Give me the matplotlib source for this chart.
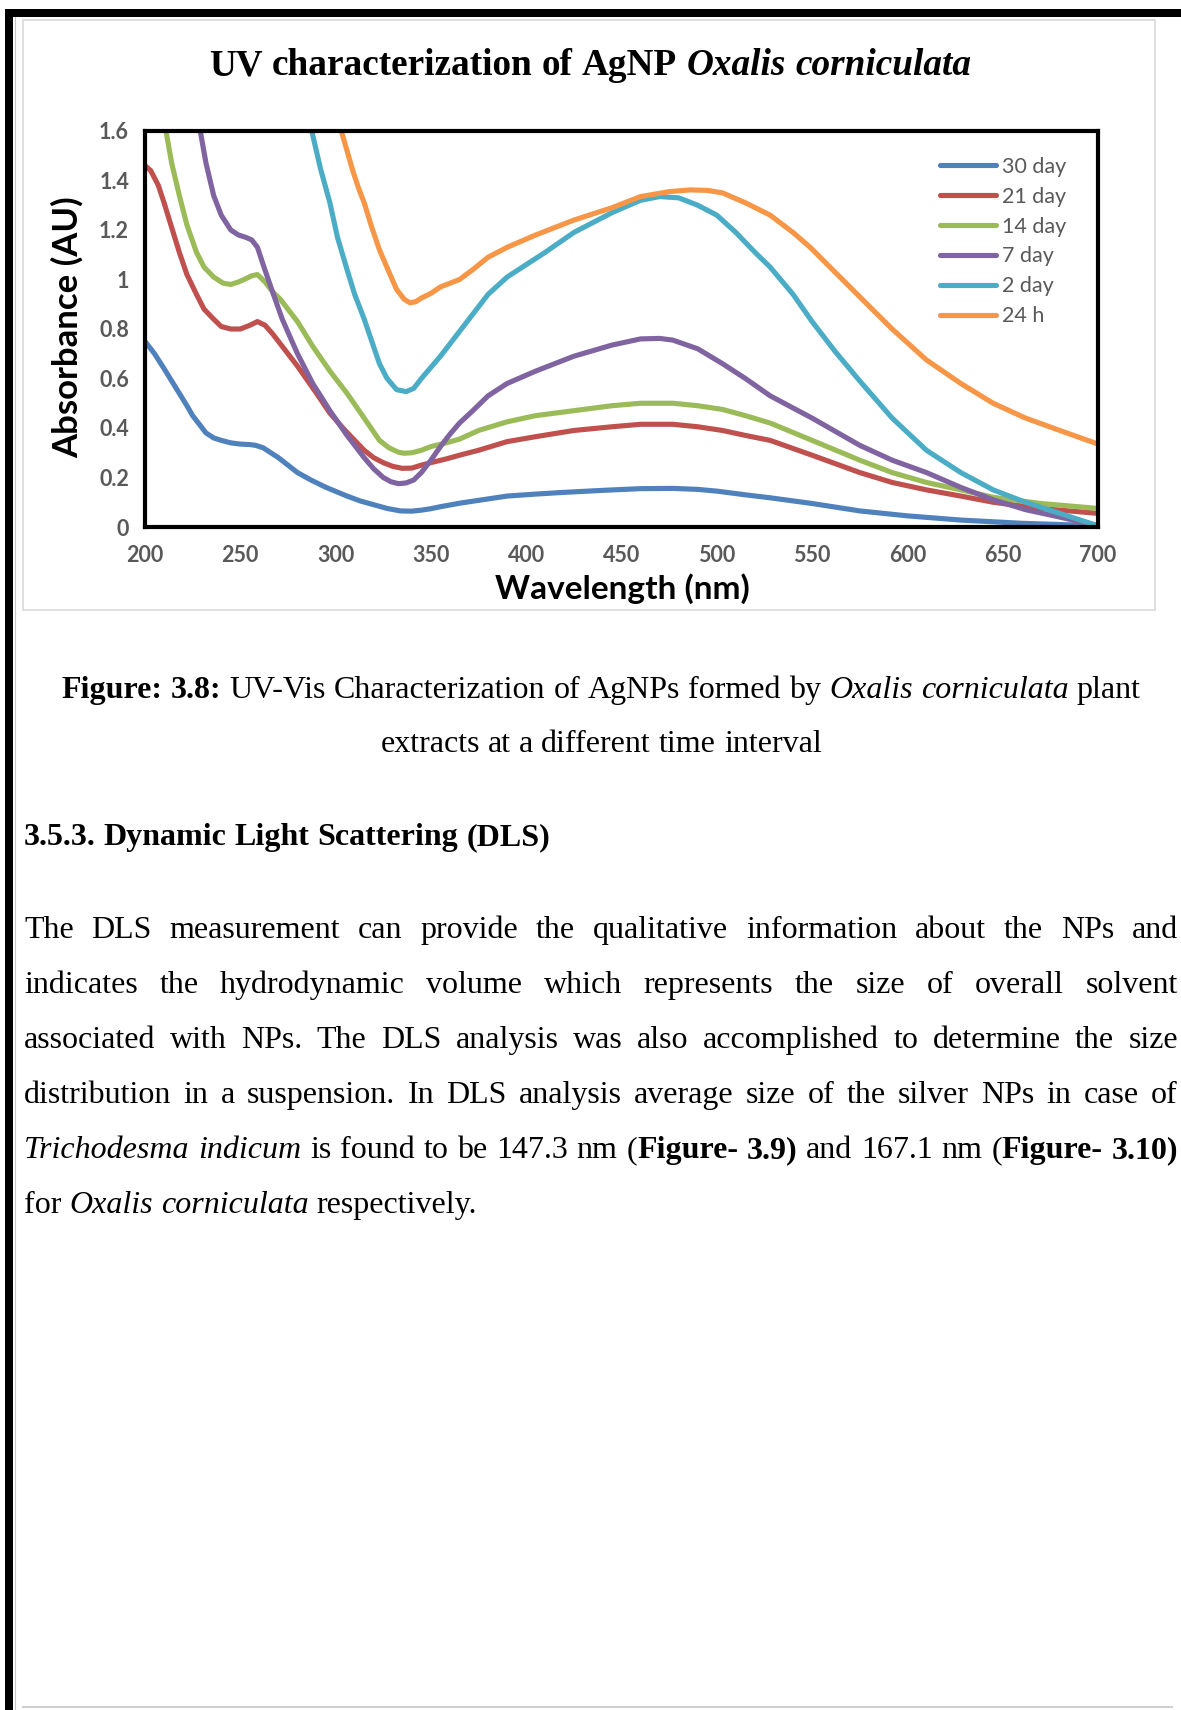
import matplotlib.pyplot as plt
from matplotlib.patches import Rectangle

# ---- data ----
wl_30d = [200, 205, 210, 214, 218, 222, 225, 229, 232, 236, 240, 245, 250, 255, 258, 262, 266, 270, 275, 280, 287, 295, 306, 313, 320, 327, 334, 340, 345, 350, 355, 365, 377, 390, 405, 420, 440, 460, 477, 490, 500, 515, 528, 550, 575, 600, 628, 660, 700]
ab_30d = [0.75, 0.70, 0.64, 0.59, 0.54, 0.49, 0.45, 0.41, 0.38, 0.36, 0.35, 0.34, 0.335, 0.333, 0.33, 0.32, 0.30, 0.28, 0.25, 0.22, 0.19, 0.16, 0.125, 0.105, 0.09, 0.075, 0.065, 0.064, 0.068, 0.074, 0.082, 0.096, 0.11, 0.125, 0.133, 0.14, 0.148, 0.155, 0.156, 0.152, 0.145, 0.13, 0.118, 0.095, 0.065, 0.045, 0.028, 0.015, 0.005]

wl_21d = [200, 203, 207, 210, 214, 218, 222, 227, 231, 236, 240, 245, 250, 255, 259, 263, 267, 273, 280, 290, 297, 305, 315, 320, 325, 330, 335, 340, 345, 350, 358, 365, 375, 390, 405, 425, 445, 460, 477, 490, 503, 515, 528, 550, 575, 592, 610, 628, 645, 670, 700]
ab_21d = [1.46, 1.44, 1.38, 1.31, 1.21, 1.11, 1.02, 0.94, 0.88, 0.84, 0.81, 0.80, 0.80, 0.815, 0.83, 0.815, 0.78, 0.72, 0.65, 0.54, 0.46, 0.39, 0.31, 0.28, 0.26, 0.245, 0.237, 0.238, 0.25, 0.26, 0.275, 0.29, 0.31, 0.345, 0.365, 0.39, 0.405, 0.415, 0.415, 0.405, 0.39, 0.37, 0.35, 0.29, 0.22, 0.18, 0.15, 0.125, 0.10, 0.075, 0.055]

wl_14d = [208, 211, 214, 218, 222, 227, 231, 236, 241, 245, 249, 252, 256, 259, 263, 267, 271, 280, 288, 297, 306, 315, 323, 328, 333, 336, 340, 345, 350, 358, 365, 375, 390, 405, 425, 445, 460, 477, 490, 503, 515, 528, 550, 575, 592, 610, 628, 645, 670, 700]
ab_14d = [1.70, 1.60, 1.47, 1.34, 1.22, 1.11, 1.05, 1.01, 0.985, 0.98, 0.99, 1.00, 1.015, 1.02, 0.99, 0.95, 0.92, 0.83, 0.73, 0.63, 0.54, 0.44, 0.35, 0.32, 0.302, 0.298, 0.30, 0.31, 0.325, 0.34, 0.355, 0.39, 0.425, 0.45, 0.47, 0.49, 0.50, 0.50, 0.49, 0.475, 0.45, 0.42, 0.35, 0.27, 0.22, 0.18, 0.15, 0.12, 0.095, 0.075]

wl_7d = [227, 229, 232, 236, 240, 245, 249, 253, 256, 259, 262, 266, 272, 280, 288, 297, 306, 315, 320, 325, 329, 333, 337, 341, 345, 350, 355, 360, 365, 372, 380, 390, 405, 425, 445, 460, 470, 477, 490, 503, 515, 528, 550, 575, 592, 610, 628, 645, 662, 680, 700]
ab_7d = [1.70, 1.60, 1.47, 1.34, 1.26, 1.20, 1.18, 1.17, 1.16, 1.13, 1.06, 0.97, 0.84, 0.70, 0.58, 0.47, 0.37, 0.28, 0.235, 0.20, 0.183, 0.175, 0.178, 0.19, 0.22, 0.27, 0.325, 0.375, 0.42, 0.47, 0.53, 0.58, 0.63, 0.69, 0.735, 0.76, 0.762, 0.755, 0.72, 0.66, 0.60, 0.53, 0.44, 0.33, 0.27, 0.22, 0.16, 0.11, 0.07, 0.04, 0.005]

wl_2d = [285, 287.5, 292, 297, 301, 306, 310, 315, 319, 323, 327, 332, 337, 341, 345, 350, 355, 360, 365, 372, 380, 390, 400, 410, 425, 445, 460, 470, 480, 490, 500, 510, 520, 528, 540, 550, 562, 575, 592, 610, 628, 645, 662, 680, 700]
ab_2d = [1.70, 1.60, 1.45, 1.31, 1.17, 1.04, 0.94, 0.84, 0.75, 0.66, 0.60, 0.555, 0.547, 0.56, 0.60, 0.645, 0.69, 0.74, 0.79, 0.86, 0.94, 1.01, 1.06, 1.11, 1.19, 1.27, 1.32, 1.335, 1.33, 1.30, 1.26, 1.19, 1.11, 1.05, 0.94, 0.83, 0.71, 0.59, 0.44, 0.31, 0.22, 0.15, 0.10, 0.055, 0.005]

wl_24h = [301, 303, 306, 309, 312, 315, 319, 323, 328, 332, 336, 339, 342, 345, 350, 355, 365, 372, 380, 390, 405, 425, 445, 460, 475, 486, 495, 503, 515, 528, 540, 549, 562, 575, 592, 610, 628, 645, 662, 680, 700]
ab_24h = [1.70, 1.60, 1.52, 1.44, 1.37, 1.31, 1.21, 1.12, 1.03, 0.96, 0.92, 0.906, 0.91, 0.925, 0.944, 0.97, 1.0, 1.04, 1.09, 1.13, 1.18, 1.24, 1.29, 1.335, 1.355, 1.362, 1.36, 1.35, 1.31, 1.26, 1.19, 1.13, 1.03, 0.93, 0.80, 0.675, 0.58, 0.50, 0.44, 0.39, 0.335]

series = [
    ("30 day", wl_30d, ab_30d, "#4F81BD"),
    ("21 day", wl_21d, ab_21d, "#C0504D"),
    ("14 day", wl_14d, ab_14d, "#9BBB59"),
    ("7 day", wl_7d, ab_7d, "#8064A2"),
    ("2 day", wl_2d, ab_2d, "#4BACC6"),
    ("24 h", wl_24h, ab_24h, "#F79646"),
]

x_ticks = [200, 250, 300, 350, 400, 450, 500, 550, 600, 650, 700]
y_ticks = [0, 0.2, 0.4, 0.6, 0.8, 1.0, 1.2, 1.4, 1.6]
y_ticklabels = ["0", "0.2", "0.4", "0.6", "0.8", "1", "1.2", "1.4", "1.6"]

title_runs = [("UV characterization of AgNP ", "b"), ("Oxalis corniculata", "bi")]
caption_1 = [("Figure: 3.8:", "b"), (" UV-Vis Characterization of AgNPs formed by ", "r"),
             ("Oxalis corniculata", "i"), (" plant", "r")]
caption_2 = [("extracts at a different time interval", "r")]
heading = [("3.5.3. Dynamic Light Scattering (DLS)", "b")]
paragraph = [
    [("The DLS measurement can provide the qualitative information about the NPs and", "r")],
    [("indicates the hydrodynamic volume which represents the size of overall solvent", "r")],
    [("associated with NPs. The DLS analysis was also accomplished to determine the size", "r")],
    [("distribution in a suspension. In DLS analysis average size of the silver NPs in case of", "r")],
    [("Trichodesma indicum", "i"), (" is found to be 147.3 nm (", "r"), ("Figure- 3.9)", "b"),
     (" and 167.1 nm (", "r"), ("Figure- 3.10)", "b")],
    [("for ", "r"), ("Oxalis corniculata", "i"), (" respectively.", "r")],
]

W, H = 1181, 1710
fig = plt.figure(figsize=(W / 100, H / 100), dpi=100)
rend = fig.canvas.get_renderer()
SERIF = "Liberation Serif"
SANS = "Lato"
GREY = "#595959"


def fx(x):
    return x / W


def fy(y):
    return 1 - y / H


STYLES = {"r": ("normal", "normal"), "b": ("bold", "normal"),
          "i": ("normal", "italic"), "bi": ("bold", "italic")}


def put(s, code, size):
    wt, st = STYLES[code]
    return fig.text(0, 0, s, fontsize=size, family=SERIF, fontweight=wt,
                    fontstyle=st, va="baseline", ha="left")


def wid(t):
    return t.get_window_extent(rend).width


def to_words(runs):
    words = [[]]
    for text, code in runs:
        for k, p in enumerate(text.split(" ")):
            if k > 0:
                words.append([])
            if p:
                words[-1].append((p, code))
    return [w for w in words if w]


def text_line(runs, y, size, left=None, center=None, right=None):
    words = to_words(runs)
    a, b = put("n n", "r", size), put("nn", "r", size)
    space = wid(a) - wid(b)
    a.remove()
    b.remove()
    objs, widths = [], []
    for word in words:
        parts = [put(s, c, size) for s, c in word]
        objs.append(parts)
        widths.append(sum(wid(p) for p in parts))
    gap = space
    if left is not None and right is not None:
        gap = (right - left - sum(widths)) / (len(words) - 1)
        x = left
    elif center is not None:
        x = center - (sum(widths) + space * (len(words) - 1)) / 2
    else:
        x = left
    for parts in objs:
        for p in parts:
            p.set_position((fx(x), fy(y)))
            x += wid(p)
        x += gap


# ---- page frame ----
fig.add_artist(Rectangle((fx(5), fy(17)), 1, 8 / H, transform=fig.transFigure,
                         color="black", lw=0))
fig.add_artist(Rectangle((fx(5), 0), 8 / W, fy(9), transform=fig.transFigure,
                         color="black", lw=0))
fig.add_artist(plt.Line2D([fx(15), fx(15)], [0, fy(17)], transform=fig.transFigure,
                          color="#c8c8c8", lw=0.8))
fig.add_artist(plt.Line2D([fx(23), fx(1172)], [fy(1707), fy(1707)],
                          transform=fig.transFigure, color="#d0d0d0", lw=1.5))
fig.add_artist(Rectangle((fx(23), fy(610)), (1155 - 23) / W, (610 - 20) / H,
                         transform=fig.transFigure, fill=False,
                         edgecolor="#d9d9d9", lw=1.2))

# ---- chart ----
ax = fig.add_axes([fx(145), fy(527), (1098 - 145) / W, (527 - 131) / H])
for name, xs, ys, col in series:
    ax.plot(xs, ys, color=col, lw=3.7, label=name, solid_capstyle="round",
            solid_joinstyle="round")
ax.set_xlim(200, 700)
ax.set_ylim(0, 1.6)
ax.set_xticks(x_ticks)
ax.set_yticks(y_ticks)
ax.set_yticklabels(y_ticklabels)
for s in ax.spines.values():
    s.set_linewidth(3)
    s.set_color("black")
ax.tick_params(axis="y", length=0, pad=11.5, labelsize=15.5, labelcolor=GREY)
ax.tick_params(axis="x", length=0, pad=13, labelsize=15.5, labelcolor=GREY)
for lab in ax.get_xticklabels() + ax.get_yticklabels():
    lab.set_family(SANS)
    lab.set_fontweight("bold")

ax.legend(loc="upper left", bbox_to_anchor=(0.834, 0.935), frameon=False,
          borderpad=0, borderaxespad=0, handlelength=2.6, handletextpad=0.3,
          labelspacing=0.46, prop={"family": SANS, "size": 15.5},
          labelcolor=GREY)

fig.text(fx(67), fy(327), "Absorbance (AU)", rotation=90, ha="center",
         va="center", family=SANS, fontweight="bold", fontsize=25)
fig.text(fx(622), fy(589), "Wavelength (nm)", ha="center", va="center",
         family=SANS, fontweight="bold", fontsize=24)

text_line(title_runs, 75, 26.8, center=590)

# ---- page text ----
text_line(caption_1, 698, 23, center=601)
text_line(caption_2, 752, 23, center=601)
text_line(heading, 845, 23, left=24)
for i, runs in enumerate(paragraph):
    y = 938 + 55 * i
    if i < len(paragraph) - 1:
        text_line(runs, y, 23, left=24, right=1178)
    else:
        text_line(runs, y, 23, left=24)

fig.savefig("out.png", dpi=100, facecolor="white")
